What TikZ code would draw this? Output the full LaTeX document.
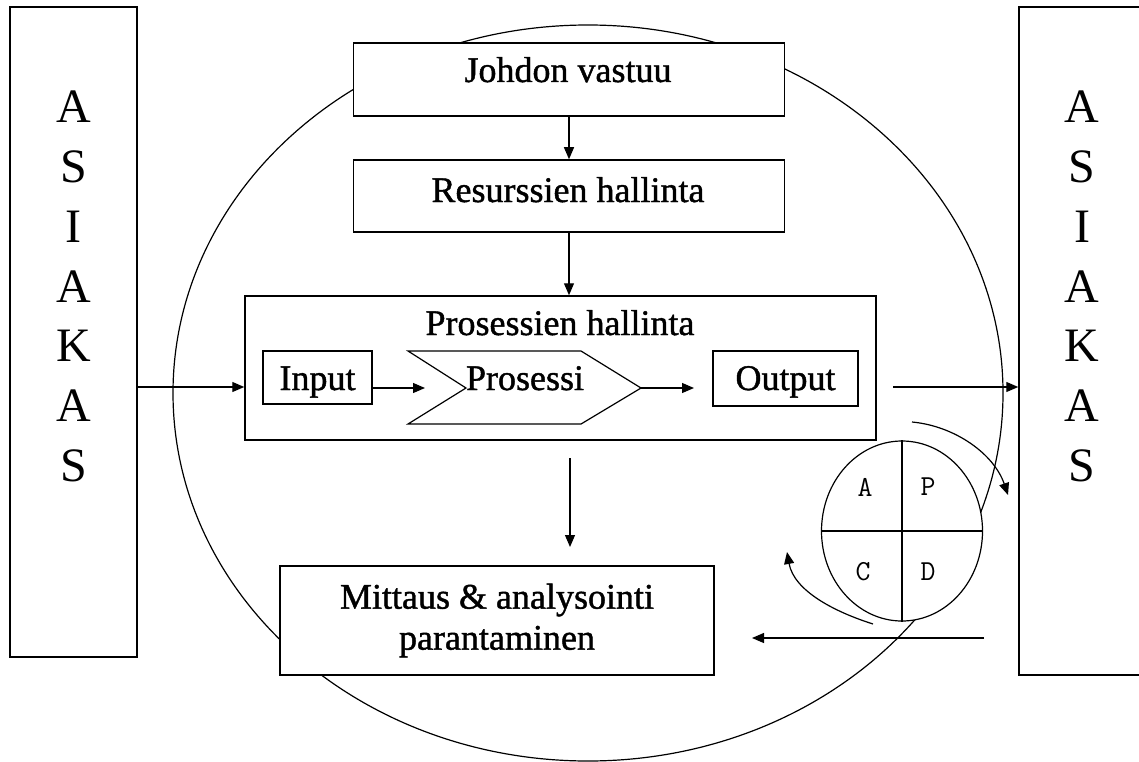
\documentclass[tikz,border=0pt]{standalone}
\usepackage{fontspec}
\setmainfont{Liberation Serif}
\newfontfamily\labelfont{Liberation Serif}[FakeBold=1.2]
\usetikzlibrary{arrows.meta,shapes.geometric}

\begin{document}
\begin{tikzpicture}[x=1pt,y=-1pt,
  box/.style={draw,line width=1.5pt,fill=white,inner sep=0pt},
  lbl/.style={font=\labelfont\fontsize{36}{41}\selectfont,inner sep=0pt},
  tall/.style={font=\fontsize{48}{59.8}\selectfont,inner sep=0pt,align=center},
  pdcalbl/.style={font=\ttfamily\fontsize{29}{32}\selectfont,inner sep=0pt},
  conn/.style={line width=1.2pt,-{Triangle[length=12pt,width=10pt]}},
  thin/.style={line width=1.2pt},
  ]
\useasboundingbox (0,0) rectangle (1139,762);
\clip (0,0) rectangle (1139,762);

% outer quality loop
\draw[thin] (588,393) ellipse [x radius=415, y radius=368];

% customers
\node[box,minimum width=127pt,minimum height=650pt] (lcust) at (73.5,332) {};
\node[tall] (lcusttxt) at (73.5,286.5) {A\\S\\I\\A\\K\\A\\S};
\node[box,minimum width=141pt,minimum height=668pt] (rcust) at (1089.5,341) {};
\node[tall] (rcusttxt) at (1082,286.5) {A\\S\\I\\A\\K\\A\\S};

% management boxes
\node[box,minimum width=431pt,minimum height=73pt] (johdon) at (569,79.5) {};
\node[lbl,anchor=base] (johdontxt) at (568,82) {Johdon vastuu};
\node[box,minimum width=431pt,minimum height=72pt] (resurssi) at (569,196) {};
\node[lbl,anchor=base] (resurssitxt) at (568,202) {Resurssien hallinta};

% process management
\node[box,minimum width=631pt,minimum height=144pt] (proc) at (560.5,368) {};
\node[lbl,anchor=base] (proctxt) at (560,335) {Prosessien hallinta};
\node[box,minimum width=109pt,minimum height=53pt] (input) at (317.5,377.5) {};
\node[lbl,anchor=base] (inputtxt) at (317.5,390) {Input};
\node[box,minimum width=145pt,minimum height=55pt] (output) at (785.5,378.5) {};
\node[lbl,anchor=base] (outputtxt) at (785.5,390) {Output};

% process chevron
\coordinate (chvnotch) at (466,388);
\coordinate (chvtip) at (641,388);
\draw[thin] (408,351) -- (581,351) -- (chvtip) -- (581,424) -- (408,424) -- (chvnotch) -- cycle;
\node[lbl,anchor=base] (prosessi) at (525,390) {Prosessi};

% measurement box
\node[box,minimum width=434pt,minimum height=109pt,lbl,align=center] (mitt) at (497,620.5)
  {Mittaus \& analysointi\\parantaminen};

% connectors
\coordinate (flow) at (0,387);
\draw[conn] (lcust.east |- flow) -- (proc.west |- flow);
\coordinate (chvin) at (425,388);
\draw[conn] (input.east |- chvin) -- (chvin);
\coordinate (outin) at (694,388);
\draw[conn] (chvtip) -- (outin);
\coordinate (outstart) at (893,387);
\draw[conn] (outstart) -- (rcust.west |- outstart);
\draw[conn] (johdon.south) -- (resurssi.north);
\draw[conn] (resurssi.south) -- (resurssi.south |- proc.north);
\coordinate (dnstart) at (570,458);
\coordinate (dnend) at (570,547);
\draw[conn] (dnstart) -- (dnend);
\coordinate (fbstart) at (984,638);
\coordinate (fbend) at (752,638);
\draw[conn] (fbstart) -- (fbend);

% PDCA wheel
\node[draw,thin,ellipse,fill=white,minimum width=161pt,minimum height=180pt,inner sep=0pt] (pdca) at (902,531) {};
\draw[thin] (pdca.north) -- (pdca.south);
\draw[thin] (pdca.west) -- (pdca.east);
\node[pdcalbl] (pA) at (865,487) {A};
\node[pdcalbl] (pP) at (928,487) {P};
\node[pdcalbl] (pC) at (863,572) {C};
\node[pdcalbl] (pD) at (928,572) {D};

% rotation arrows around the wheel
\coordinate (rotAs) at (912,422);
\coordinate (rotAe) at (1008,495);
\draw[conn] (rotAs) .. controls (955,426) and (994,454) .. (rotAe);
\coordinate (rotBs) at (873,624);
\coordinate (rotBe) at (787,552);
\draw[conn] (rotBs) .. controls (835,612) and (794,591) .. (rotBe);
\end{tikzpicture}
\end{document}
